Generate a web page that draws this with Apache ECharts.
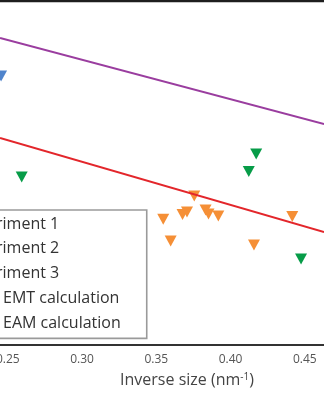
<!DOCTYPE html>
<html>
<head>
<meta charset="utf-8">
<script src="https://cdn.jsdelivr.net/npm/echarts@6/dist/echarts.min.js"></script>
<style>html,body{margin:0;padding:0;background:#fff}#c{width:324px;height:400px}</style>
</head>
<body>
<div id="c"></div>
<script>
// Data (x: inverse size nm^-1, y: arbitrary hidden-axis units)
const xTicks = [0.25, 0.30, 0.35, 0.40, 0.45];
const exp1 = [[0.2455, 269]];
const exp2 = [[0.3547, 125.7], [0.3597, 104], [0.3677, 130.5], [0.3707, 133], [0.3756, 149],
              [0.3832, 135], [0.3852, 131], [0.3918, 129], [0.4158, 100], [0.4416, 128.5]];
const exp3 = [[0.2594, 168], [0.4173, 191], [0.4123, 173.5], [0.4475, 86]];
const emt = [[0.2448, 307], [0.4630, 221]];
const eam = [[0.2448, 207], [0.4630, 113]];
const names = ['Experiment 1', 'Experiment 2', 'Experiment 3', 'EMT calculation', 'EAM calculation'];

const font = 'Open Sans';
const chart = echarts.init(document.getElementById('c'), null, {renderer: 'canvas'});
const tri = (name, data, color) => ({
  name, type: 'scatter', data, symbol: 'triangle', symbolRotate: 180,
  symbolSize: [12, 11], itemStyle: {color, opacity: 1}, z: 2
});
const ln = (name, data, color) => ({
  name, type: 'line', data, symbol: 'none', showSymbol: false,
  lineStyle: {color, width: 2}, itemStyle: {color}, z: 3, silent: true
});
chart.setOption({
  animation: false,
  grid: {left: 0, right: 0, top: 1, bottom: 55, containLabel: false, outerBoundsMode: 'none'},
  xAxis: [{
    type: 'value', min: 0.24478, max: 0.46296,
    axisLine: {show: true, lineStyle: {color: '#333', width: 2}},
    axisTick: {show: false},
    splitLine: {show: false},
    axisLabel: {customValues: xTicks, formatter: v => v.toFixed(2), color: '#555',
                fontFamily: font, fontSize: 12, margin: 9},
    name: 'Inverse size (nm{s|-1})',
    nameLocation: 'middle', nameGap: 27,
    nameTextStyle: {color: '#444', fontFamily: font, fontSize: 16, padding: [0, 0, 0, 50],
      rich: {s: {fontSize: 10, fontFamily: font, color: '#444', verticalAlign: 'top', padding: [0, 0, 6, 0]}}}
  }, {
    type: 'value', position: 'top', min: 0.24478, max: 0.46296,
    axisLine: {show: true, onZero: false, lineStyle: {color: '#1e1e1e', width: 2.4}},
    axisTick: {show: false}, axisLabel: {show: false}, splitLine: {show: false}
  }],
  yAxis: {
    type: 'value', min: 0, max: 344, show: false
  },
  legend: {
    data: names, orient: 'vertical', left: -81, top: 210,
    itemWidth: 25, itemHeight: 14, itemGap: 4.85,
    padding: [4, 26, 5, 10],
    borderColor: '#9a9a9a', borderWidth: 1.6, backgroundColor: '#fff',
    textStyle: {color: '#333', fontFamily: font, fontSize: 16, lineHeight: 20,
      rich: {p: {fontFamily: font, fontSize: 16, color: '#333', padding: [0, 0, 0, 43]}}},
    formatter: n => n.indexOf('calculation') >= 0 ? '{p|' + n + '}' : n
  },
  series: [
    tri(names[0], exp1, '#4f84cc'),
    tri(names[1], exp2, '#f58f36'),
    tri(names[2], exp3, '#079c48'),
    ln(names[3], emt, '#9a3d9f'),
    ln(names[4], eam, '#e3262b')
  ]
});
</script>
</body>
</html>
